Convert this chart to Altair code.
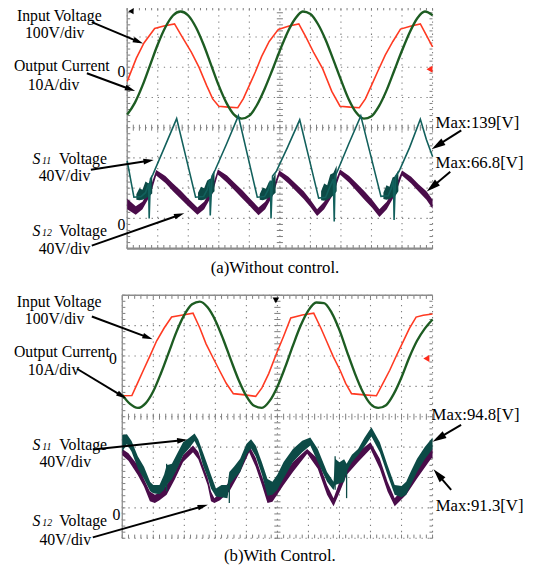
import math
import altair as alt
import pandas as pd

# ---------------- data: x in time divisions (0-10), y in vertical divisions (0-8, from bottom) -------------
# Panel (a) Without control
a_red_x = [0, 0.3, 0.55, 0.9, 1.2, 1.55, 1.8, 2.1, 2.35, 2.6, 2.8, 3.0, 3.3, 3.62, 3.8, 4.0, 4.2, 4.4, 4.65, 4.95,
           5.3, 5.62, 5.85, 6.1, 6.4, 6.7, 6.97, 7.3, 7.6, 7.8, 8.0, 8.2, 8.45, 8.7, 8.95, 9.3, 9.6, 9.8, 10.0]
a_red_y = [5.53, 6.3, 6.8, 7.28, 7.36, 7.43, 7.0, 6.5, 6.0, 5.4, 4.95, 4.71, 4.68, 4.66, 4.95, 5.4, 5.85, 6.35, 6.85, 7.25,
           7.36, 7.43, 7.0, 6.5, 5.95, 5.2, 4.71, 4.68, 4.66, 4.95, 5.4, 5.85, 6.4, 6.85, 7.26, 7.36, 7.43, 7.05, 6.67]

a_green_x = [0, 0.25, 0.5, 0.75, 1.0, 1.25, 1.5, 1.75, 2.0, 2.25, 2.5, 2.75, 3.0, 3.25, 3.5, 3.75, 4.0, 4.25, 4.5, 4.75,
             5.0, 5.25, 5.5, 5.75, 6.0, 6.25, 6.5, 6.75, 7.0, 7.25, 7.5, 7.75, 8.0, 8.25, 8.5, 8.75, 9.0, 9.25, 9.5,
             9.75, 10.0]
a_green_y = [4.43, 4.82, 5.39, 6.07, 6.75, 7.32, 7.71, 7.84, 7.71, 7.32, 6.75, 6.07, 5.39, 4.82, 4.43, 4.30, 4.40, 4.75,
             5.28, 5.9, 6.55, 7.15, 7.6, 7.84, 7.76, 7.42, 6.9, 6.25, 5.58, 4.95, 4.5, 4.30, 4.38, 4.72, 5.25, 5.9, 6.55,
             7.15, 7.62, 7.84, 7.72]

a_s11_x = [0, 0.22, 0.45, 0.6, 0.7, 0.72, 0.76, 0.84, 1.2, 1.62, 1.93, 2.24, 2.5, 2.62, 2.7, 2.72, 2.78, 2.88,
           3.25, 3.64, 3.95, 4.26, 4.5, 4.62, 4.69, 4.71, 4.76, 4.88, 5.25, 5.65, 5.96, 6.27, 6.5, 6.62, 6.75, 6.78,
           6.81, 6.88, 7.25, 7.65, 7.98, 8.31, 8.55, 8.65, 8.72, 8.74, 8.79, 8.9, 9.25, 9.6, 9.8, 10.0]
a_s11_y = [2.9, 1.7, 1.72, 1.85, 2.15, 1.0, 2.3, 2.45, 3.3, 4.3, 3.0, 1.7, 1.72, 1.95, 2.3, 1.1, 2.4, 2.6,
           3.45, 4.39, 3.05, 1.7, 1.72, 1.95, 2.25, 1.0, 2.4, 2.55, 3.35, 4.26, 2.97, 1.67, 1.7, 2.0, 2.3, 0.9,
           2.4, 2.55, 3.45, 4.39, 3.06, 1.73, 1.75, 2.0, 2.3, 0.95, 2.4, 2.55, 3.35, 4.28, 3.6, 3.05]

a_nz_cyc = [0] * 6 + [1] * 6 + [2] * 6 + [3] * 6 + [4] * 6
a_nz_x = [0.3, 0.4, 0.5, 0.6, 0.7, 0.82, 2.32, 2.42, 2.52, 2.62, 2.72, 2.86, 4.34, 4.44, 4.54, 4.64, 4.74, 4.86,
          6.35, 6.45, 6.55, 6.65, 6.75, 6.86, 8.39, 8.49, 8.59, 8.69, 8.79, 8.88]
a_nz_lo = [1.62, 1.6, 1.62, 1.66, 1.72, 1.82, 1.62, 1.6, 1.62, 1.68, 1.75, 1.9, 1.62, 1.6, 1.63, 1.68, 1.74, 1.85,
           1.6, 1.58, 1.62, 1.68, 1.76, 1.9, 1.64, 1.62, 1.64, 1.7, 1.76, 1.9]
a_nz_hi = [1.8, 2.0, 1.95, 2.22, 2.15, 2.45, 1.85, 2.05, 2.0, 2.25, 2.3, 2.6, 1.8, 2.02, 1.98, 2.2, 2.25, 2.5,
           1.9, 2.15, 2.1, 2.45, 2.5, 2.75, 1.85, 2.1, 2.05, 2.35, 2.4, 2.6]

a_s12_x = [0, 0.28, 0.5, 0.75, 0.95, 1.25, 1.5, 1.75, 2.0, 2.3, 2.52, 2.77, 2.97, 3.27, 3.52, 3.77, 4.02, 4.3, 4.52,
           4.77, 4.98, 5.28, 5.53, 5.78, 6.0, 6.22, 6.45, 6.75, 6.97, 7.27, 7.52, 7.77, 8.02, 8.26, 8.5, 8.78, 9.0,
           9.3, 9.55, 9.8, 10.0]
a_s12_lo = [1.3, 1.12, 1.3, 1.75, 2.42, 2.17, 1.9, 1.65, 1.4, 1.12, 1.3, 1.75, 2.45, 2.18, 1.92, 1.66, 1.4, 1.1, 1.3,
            1.76, 2.42, 2.15, 1.9, 1.64, 1.38, 1.08, 1.3, 1.8, 2.45, 2.18, 1.9, 1.62, 1.35, 1.05, 1.3, 1.8, 2.42,
            2.15, 1.88, 1.62, 1.32]
a_s12_hi = [1.65, 1.4, 1.55, 2.0, 2.6, 2.4, 2.15, 1.92, 1.66, 1.36, 1.55, 2.0, 2.62, 2.42, 2.17, 1.93, 1.66, 1.36,
            1.55, 2.0, 2.58, 2.38, 2.14, 1.9, 1.62, 1.3, 1.55, 2.05, 2.62, 2.4, 2.15, 1.9, 1.62, 1.3, 1.55, 2.05,
            2.58, 2.38, 2.12, 1.9, 1.62]

# Panel (b) With control
b_red_x = [0, 0.31, 0.5, 0.68, 0.9, 1.11, 1.35, 1.59, 1.95, 2.28, 2.5, 2.7, 2.92, 3.13, 3.35, 3.58, 3.95, 4.3, 4.5,
           4.72, 4.99, 5.2, 5.43, 5.8, 6.17, 6.4, 6.6, 6.8, 7.02, 7.2, 7.39, 7.8, 8.19, 8.4, 8.62, 8.83, 9.04, 9.25,
           9.47, 9.7, 10.0]
b_red_y = [4.69, 4.70, 5.12, 5.53, 6.02, 6.5, 6.92, 7.28, 7.35, 7.41, 6.92, 6.4, 5.95, 5.53, 5.1, 4.76, 4.72, 4.67,
           4.95, 5.42, 6.13, 6.65, 7.25, 7.35, 7.41, 6.92, 6.45, 5.98, 5.53, 5.1, 4.76, 4.72, 4.69, 5.1, 5.53, 6.0,
           6.45, 6.9, 7.28, 7.34, 7.38]

b_green_x = a_green_x
b_green_y = [4.72, 4.42, 4.29, 4.44, 4.84, 5.44, 6.12, 6.80, 7.35, 7.70, 7.79, 7.60, 7.17, 6.56, 5.87, 5.21, 4.68,
             4.36, 4.29, 4.52, 4.99, 5.63, 6.34, 7.0, 7.50, 7.76, 7.74, 7.42, 6.85, 6.12, 5.42, 4.82, 4.42, 4.29,
             4.38, 4.75, 5.3, 5.95, 6.5, 6.9, 7.2]

b_s11_x = [0.0, 0.15, 0.3, 0.5, 0.7, 0.9, 1.0, 1.2, 1.35, 1.43, 1.6, 1.8, 1.96, 2.15, 2.33, 2.45, 2.6, 2.75, 2.86,
           3.02, 3.2, 3.39, 3.45, 3.6, 3.8, 4.0, 4.15, 4.3, 4.5, 4.68, 4.84, 5.0, 5.2, 5.5, 5.8, 6.06, 6.3, 6.6,
           6.81, 6.86, 7.0, 7.15, 7.23, 7.4, 7.6, 7.8, 8.03, 8.3, 8.55, 8.78, 9.0, 9.15, 9.3, 9.5, 9.75, 10.0]
b_s11_lo = [2.85, 3.1, 2.85, 2.3, 1.95, 1.55, 1.48, 1.45, 1.6, 1.75, 1.95, 2.35, 2.73, 2.95, 3.2, 2.95, 2.4, 2.0,
            1.64, 1.37, 1.35, 1.32, 1.75, 1.95, 2.18, 2.75, 2.95, 2.7, 2.1, 1.4, 1.43, 1.6, 1.97, 2.51, 2.83, 3.05,
            2.51, 1.86, 1.59, 1.75, 1.8, 1.85, 2.2, 2.5, 2.73, 3.0, 3.35, 2.83, 2.08, 1.43, 1.35, 1.43, 1.75, 2.18,
            2.6, 2.94]
b_s11_hi = [3.4, 3.42, 3.2, 2.7, 2.35, 1.85, 1.75, 1.75, 2.1, 2.4, 2.45, 2.85, 3.16, 3.3, 3.45, 3.25, 2.83, 2.4,
            2.08, 1.64, 1.75, 1.75, 2.18, 2.35, 2.62, 3.1, 3.26, 3.05, 2.5, 1.95, 1.86, 2.1, 2.51, 2.94, 3.21, 3.32,
            2.94, 2.18, 1.86, 2.62, 2.5, 2.6, 2.45, 2.75, 2.94, 3.3, 3.65, 3.16, 2.4, 1.75, 1.72, 1.86, 2.2, 2.62,
            3.0, 3.32]

b_s12_x = [0.0, 0.2, 0.5, 0.7, 0.89, 1.05, 1.2, 1.43, 1.7, 1.96, 2.28, 2.45, 2.6, 2.75, 2.86, 2.97, 3.15, 3.45, 3.8,
           4.09, 4.3, 4.5, 4.68, 4.84, 5.2, 5.5, 5.96, 6.3, 6.6, 6.81, 7.0, 7.23, 7.6, 8.0, 8.3, 8.55, 8.78, 9.15,
           9.5, 9.95, 10.0]
b_s12_lo = [2.73, 2.55, 2.08, 1.7, 1.22, 1.16, 1.25, 1.43, 1.95, 2.51, 2.83, 2.6, 2.18, 1.75, 1.22, 1.16, 1.25, 1.54,
            2.18, 2.83, 2.35, 1.75, 1.16, 1.2, 1.75, 2.18, 2.78, 2.29, 1.43, 1.05, 1.5, 2.08, 2.51, 2.94, 2.29, 1.54,
            1.05, 1.43, 1.97, 2.62, 2.65]
b_s12_hi = [2.94, 2.8, 2.4, 1.95, 1.54, 1.43, 1.5, 1.75, 2.2, 2.73, 3.05, 2.85, 2.4, 2.0, 1.54, 1.32, 1.5, 1.86,
            2.51, 3.05, 2.65, 2.05, 1.54, 1.5, 2.08, 2.51, 2.94, 2.62, 1.75, 1.32, 1.85, 2.4, 2.83, 3.16, 2.62, 1.86,
            1.32, 1.75, 2.29, 2.94, 2.95]

b_spk_x = [1.43, 3.45, 6.86, 7.23]
b_spk_lo = [1.55, 1.16, 1.6, 1.32]
b_spk_hi = [2.45, 1.8, 2.7, 2.3]

# annotations: (text, x, y, fontsize, italic, align, dy)
a_labels = [
    ("Input Voltage", -3.61, 7.69, 16, False, "left", 0),
    ("100V/div", -3.35, 7.13, 16, False, "left", 0),
    ("Output Current", -3.71, 6.03, 16, False, "left", 0),
    ("10A/div", -3.26, 5.41, 16, False, "left", 0),
    ("0", -0.06, 5.83, 16, False, "right", 0),
    ("S", -3.10, 2.96, 16, True, "left", 0),
    ("11", -2.79, 2.96, 10, True, "left", 2),
    ("Voltage", -2.23, 2.96, 16, False, "left", 0),
    ("40V/div", -2.90, 2.40, 16, False, "left", 0),
    ("S", -3.10, 0.59, 16, True, "left", 0),
    ("12", -2.79, 0.59, 10, True, "left", 2),
    ("Voltage", -2.23, 0.59, 16, False, "left", 0),
    ("40V/div", -2.90, 0.0, 16, False, "left", 0),
    ("0", -0.06, 0.78, 16, False, "right", 0),
    ("Max:139[V]", 10.10, 4.14, 17, False, "left", 0),
    ("Max:66.8[V]", 10.10, 2.83, 17, False, "left", 0),
    ("(a)Without control.", 4.84, -0.65, 17, False, "center", 0),
]
b_labels = [
    ("Input Voltage", -3.40, 7.78, 16, False, "left", 0),
    ("100V/div", -3.14, 7.23, 16, False, "left", 0),
    ("Output Current", -3.49, 6.13, 16, False, "left", 0),
    ("10A/div", -3.05, 5.54, 16, False, "left", 0),
    ("0", -0.17, 5.90, 16, False, "right", 0),
    ("S", -2.89, 3.08, 16, True, "left", 0),
    ("11", -2.58, 3.08, 10, True, "left", 2),
    ("Voltage", -2.03, 3.08, 16, False, "left", 0),
    ("40V/div", -2.67, 2.50, 16, False, "left", 0),
    ("S", -2.89, 0.55, 16, True, "left", 0),
    ("12", -2.58, 0.55, 10, True, "left", 2),
    ("Voltage", -2.03, 0.55, 16, False, "left", 0),
    ("40V/div", -2.67, -0.06, 16, False, "left", 0),
    ("0", -0.06, 0.75, 16, False, "right", 0),
    ("Max:94.8[V]", 9.97, 4.05, 17, False, "left", 0),
    ("Max:91.3[V]", 10.10, 1.07, 17, False, "left", 0),
    ("(b)With Control.", 5.08, -0.6, 17, False, "center", 0),
]
# arrows: (tail x, tail y, tip x, tip y, head size)
a_arrows = [(-1.16, 7.49, 0.52, 6.78, 110), (-1.32, 5.80, 0.26, 5.21, 110), (-1.19, 2.61, 0.87, 2.93, 110),
            (-1.16, 0.10, 1.87, 1.17, 110), (10.94, 3.91, 9.97, 3.29, 200), (10.58, 2.54, 9.81, 1.89, 200)]
b_arrows = [(-0.98, 7.30, 0.98, 6.55, 110), (-1.46, 5.58, 0.13, 4.60, 110), (-0.95, 2.92, 2.10, 3.24, 110),
            (-0.95, 0.03, 2.76, 1.10, 110), (10.92, 3.73, 10.0, 3.18, 200), (10.6, 1.59, 10.03, 2.27, 200)]
# scope markers: (x, y, shape, color, size)
a_markers = [(0.12, 7.85, "triangle-left", "#000000", 40), (9.9, 5.93, "triangle-left", "#ff2a1a", 50)]
b_markers = [(4.95, 7.83, "triangle-down", "#000000", 45), (9.8, 5.92, "triangle-left", "#ff2a1a", 50)]

# ---------------- styling / layout ----------------
W, H = 535, 565
RED = "#ff3a22"
GREEN = "#1d5c22"
TEAL = "#12605c"
TEAL_D = "#0c4a46"
PURPLE = "#4a0c4a"
GRID = "#7d7d7d"
FONT = "Liberation Serif"
PA = dict(x0=121.0, sx=31.0, y0=240.0, sy=30.7)
PB = dict(x0=116.0, sx=31.5, y0=534.0, sy=30.84)


def make_scales(p):
    xd = [-p["x0"] / p["sx"], (W - p["x0"]) / p["sx"]]
    yd = [(p["y0"] - H) / p["sy"], p["y0"] / p["sy"]]
    return (alt.Scale(domain=xd, nice=False, zero=False),
            alt.Scale(domain=yd, nice=False, zero=False))


def graticule(xs, ys, solid):
    X = lambda f: alt.X(f, type="quantitative", scale=xs, axis=None)
    Y = lambda f: alt.Y(f, type="quantitative", scale=ys, axis=None)
    grid = pd.DataFrame(
        [dict(x=i, x2=i, y=0, y2=8) for i in range(11)] + [dict(x=0, x2=10, y=j, y2=j) for j in range(9)])
    ticks = []
    for i in range(51):
        t = i * 0.2
        ticks += [dict(x=t, x2=t, y=3.9, y2=4.1), dict(x=t, x2=t, y=0, y2=0.12), dict(x=t, x2=t, y=7.88, y2=8)]
    for j in range(41):
        t = j * 0.2
        ticks += [dict(x=4.9, x2=5.1, y=t, y2=t), dict(x=0, x2=0.1, y=t, y2=t), dict(x=9.9, x2=10, y=t, y2=t)]
    ticks = pd.DataFrame(ticks)
    sol = pd.DataFrame([dict(x=s[0], x2=s[1], y=s[2], y2=s[3], w=s[4]) for s in solid])
    g = alt.Chart(grid).mark_rule(color=GRID, strokeDash=[1.3, 4.9], strokeWidth=1.1).encode(
        x=X("x"), x2="x2", y=Y("y"), y2="y2")
    t = alt.Chart(ticks).mark_rule(color=GRID, strokeWidth=1).encode(x=X("x"), x2="x2", y=Y("y"), y2="y2")
    s = alt.Chart(sol).mark_rule(color="#8c8c8c").encode(
        x=X("x"), x2="x2", y=Y("y"), y2="y2", strokeWidth=alt.StrokeWidth("w:Q", scale=None))
    return [g, t, s]


def annotations(xs, ys, p, labels, arrows, markers):
    X = lambda f: alt.X(f, type="quantitative", scale=xs, axis=None)
    Y = lambda f: alt.Y(f, type="quantitative", scale=ys, axis=None)
    layers = []
    lab = pd.DataFrame(labels, columns=["text", "x", "y", "fs", "it", "al", "dy"])
    for (it, al, dy), grp in lab.groupby(["it", "al", "dy"]):
        layers.append(alt.Chart(grp).mark_text(
            font=FONT, align=al, baseline="middle", dy=int(dy), color="black",
            fontStyle="italic" if it else "normal").encode(
            x=X("x"), y=Y("y"), text="text:N", size=alt.Size("fs:Q", scale=None)))
    shafts, heads = [], []
    for (tx, ty, hx, hy, hs) in arrows:
        dxp = (hx - tx) * p["sx"]
        dyp = -(hy - ty) * p["sy"]
        L = math.hypot(dxp, dyp)
        ux, uy = dxp / L, dyp / L
        half = math.sqrt(hs) / 2
        cx = hx - ux * half / p["sx"]
        cy = hy + uy * half / p["sy"]
        ang = math.degrees(math.atan2(dxp, -dyp)) % 360
        shafts.append(dict(x=tx, y=ty, x2=cx, y2=cy))
        heads.append(dict(x=cx, y=cy, ang=ang, s=hs))
    layers.append(alt.Chart(pd.DataFrame(shafts)).mark_rule(color="black", strokeWidth=2).encode(
        x=X("x"), y=Y("y"), x2="x2", y2="y2"))
    layers.append(alt.Chart(pd.DataFrame(heads)).mark_point(
        shape="M0,-1L0.55,1L-0.55,1Z", filled=True, color="black", opacity=1, strokeWidth=0).encode(
        x=X("x"), y=Y("y"), angle=alt.Angle("ang:Q", scale=None), size=alt.Size("s:Q", scale=None)))
    mk = pd.DataFrame(markers, columns=["x", "y", "shape", "c", "s"])
    layers.append(alt.Chart(mk).mark_point(filled=True, opacity=1, strokeWidth=0).encode(
        x=X("x"), y=Y("y"), shape=alt.Shape("shape:N", scale=None), color=alt.Color("c:N", scale=None),
        size=alt.Size("s:Q", scale=None)))
    return layers


def panel(p, red, green, s12, s11band, s11line, noise, spikes, labels, arrows, markers, solid):
    xs, ys = make_scales(p)
    X = lambda f: alt.X(f, type="quantitative", scale=xs, axis=None)
    Y = lambda f: alt.Y(f, type="quantitative", scale=ys, axis=None)
    layers = graticule(xs, ys, solid)
    layers.append(alt.Chart(pd.DataFrame({"x": red[0], "y": red[1]})).mark_line(
        color=RED, strokeWidth=1.6).encode(x=X("x"), y=Y("y")))
    layers.append(alt.Chart(pd.DataFrame({"x": green[0], "y": green[1]})).mark_line(
        color=GREEN, strokeWidth=2.4, interpolate="monotone").encode(x=X("x"), y=Y("y")))
    layers.append(alt.Chart(pd.DataFrame({"x": s12[0], "lo": s12[1], "hi": s12[2]})).mark_area(
        color=PURPLE, opacity=1).encode(x=X("x"), y=Y("lo"), y2="hi"))
    if s11band is not None:
        layers.append(alt.Chart(pd.DataFrame({"x": s11band[0], "lo": s11band[1], "hi": s11band[2]})).mark_area(
            color=TEAL_D, opacity=1).encode(x=X("x"), y=Y("lo"), y2="hi"))
    if noise is not None:
        layers.append(alt.Chart(pd.DataFrame({"c": noise[0], "x": noise[1], "lo": noise[2], "hi": noise[3]}))
                      .mark_area(color=TEAL_D, opacity=1).encode(x=X("x"), y=Y("lo"), y2="hi", detail="c:N"))
    if s11line is not None:
        layers.append(alt.Chart(pd.DataFrame({"x": s11line[0], "y": s11line[1]})).mark_line(
            color=TEAL, strokeWidth=1.6).encode(x=X("x"), y=Y("y")))
    if spikes is not None:
        layers.append(alt.Chart(pd.DataFrame({"x": spikes[0], "lo": spikes[1], "hi": spikes[2]})).mark_rule(
            color=TEAL_D, strokeWidth=1.3).encode(x=X("x"), y=Y("lo"), y2="hi"))
    layers += annotations(xs, ys, p, labels, arrows, markers)
    return alt.layer(*layers)


pa = panel(PA, (a_red_x, a_red_y), (a_green_x, a_green_y), (a_s12_x, a_s12_lo, a_s12_hi), None,
           (a_s11_x, a_s11_y), (a_nz_cyc, a_nz_x, a_nz_lo, a_nz_hi), None, a_labels, a_arrows, a_markers,
           solid=[(0, 0, 0, 8, 1.3), (0, 10, 0, 0, 2.5)])
pb = panel(PB, (b_red_x, b_red_y), (b_green_x, b_green_y), (b_s12_x, b_s12_lo, b_s12_hi),
           (b_s11_x, b_s11_lo, b_s11_hi), None, None, (b_spk_x, b_spk_lo, b_spk_hi), b_labels, b_arrows,
           b_markers, solid=[(0, 0, 0, 8, 1.3), (0, 10, 8, 8, 1.6)])

chart = alt.layer(pa, pb).resolve_scale(x="independent", y="independent").properties(
    width=W, height=H, padding=0, autosize=alt.AutoSizeParams(type="none"), background="white"
).configure_view(stroke=None)

chart.save("out.html", embed_options={"renderer": "svg", "actions": False})
